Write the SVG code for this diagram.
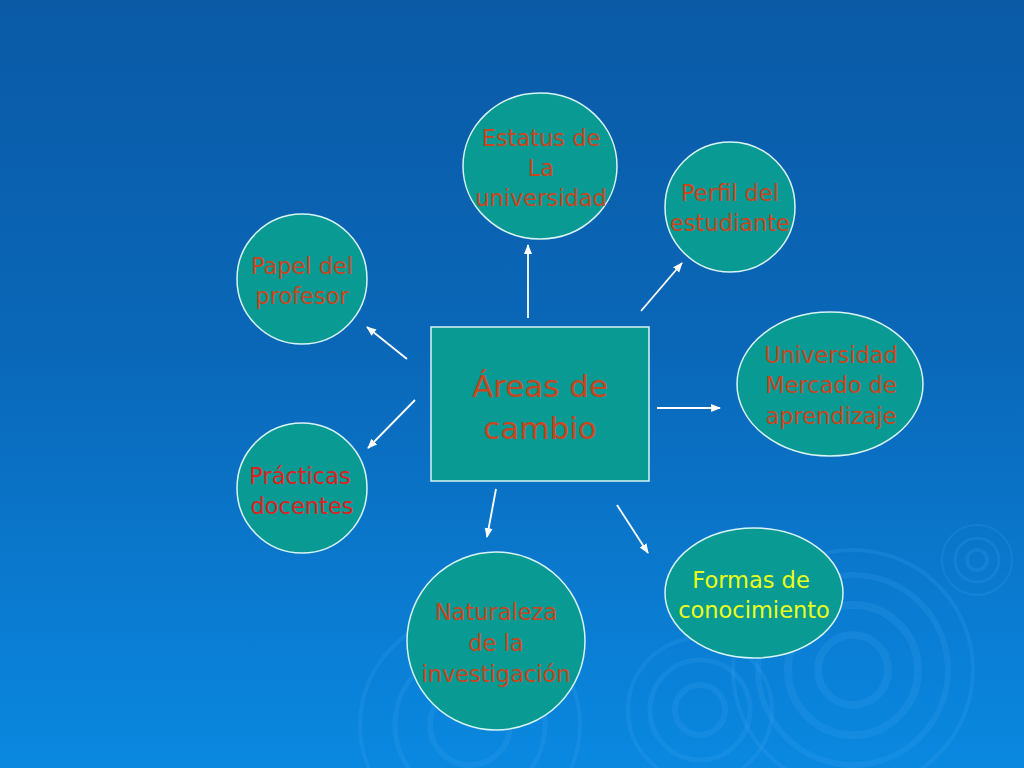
<svg xmlns="http://www.w3.org/2000/svg" width="1024" height="768" viewBox="0 0 1024 768">
<defs>
<linearGradient id="bg" x1="0" y1="0" x2="0" y2="1">
<stop offset="0" stop-color="#0a5aa6"/>
<stop offset="0.45" stop-color="#0a67b8"/>
<stop offset="1" stop-color="#0a88e0"/>
</linearGradient>
<marker id="ah" viewBox="0 0 10 10" refX="9" refY="5" markerWidth="10" markerHeight="10" orient="auto" markerUnits="userSpaceOnUse">
<path d="M0,1 L10,5 L0,9 z" fill="#ffffff"/>
</marker>
<style>
.node{fill:#0a9a94;stroke:#d8f4f4;stroke-width:1.5}
.t{font-family:"DejaVu Sans",Verdana,sans-serif;font-size:22.5px;text-anchor:middle;fill:#c8461e}
.red{fill:#e01e1e}
.yel{fill:#eaff1a}
.big{font-size:31px}
.conn line{stroke:#ffffff;stroke-width:1.8;marker-end:url(#ah)}
.rip{fill:none;stroke:#3aa6f0;stroke-opacity:0.2}
</style>
</defs>
<rect width="1024" height="768" fill="url(#bg)"/>
<g id="ripples">
<circle class="rip" cx="977" cy="560" r="10" stroke-width="4"/>
<circle class="rip" cx="977" cy="560" r="22" stroke-width="3"/>
<circle class="rip" cx="977" cy="560" r="35" stroke-width="2"/>
<circle class="rip" cx="853" cy="670" r="35" stroke-width="8"/>
<circle class="rip" cx="853" cy="670" r="65" stroke-width="8"/>
<circle class="rip" cx="853" cy="670" r="95" stroke-width="6"/>
<circle class="rip" cx="853" cy="670" r="120" stroke-width="4"/>
<circle class="rip" cx="700" cy="710" r="25" stroke-width="6"/>
<circle class="rip" cx="700" cy="710" r="50" stroke-width="5"/>
<circle class="rip" cx="700" cy="710" r="72" stroke-width="4"/>
<circle class="rip" cx="470" cy="725" r="40" stroke-width="6"/>
<circle class="rip" cx="470" cy="725" r="75" stroke-width="5"/>
<circle class="rip" cx="470" cy="725" r="110" stroke-width="4"/>
</g>
<g class="conn" id="connectors">
<line x1="528" y1="318" x2="528" y2="245"/>
<line x1="641" y1="311" x2="682" y2="263"/>
<line x1="657" y1="408" x2="720" y2="408"/>
<line x1="407" y1="359" x2="367" y2="327"/>
<line x1="415" y1="400" x2="368" y2="448"/>
<line x1="496" y1="489" x2="487" y2="537"/>
<line x1="617" y1="505" x2="648" y2="553"/>
</g>
<g id="center">
<rect class="node" x="431" y="327" width="218" height="154"/>
<text class="t big" x="540" y="397">Áreas de</text>
<text class="t big" x="540" y="439">cambio</text>
</g>
<g id="estatus">
<ellipse class="node" cx="540" cy="166" rx="77" ry="73"/>
<text class="t" x="541" y="146">Estatus de</text>
<text class="t" x="541" y="176">La</text>
<text class="t" x="541" y="206">universidad</text>
</g>
<g id="perfil">
<ellipse class="node" cx="730" cy="207" rx="65" ry="65"/>
<text class="t" x="730" y="201">Perfil del</text>
<text class="t" x="730" y="231">estudiante</text>
</g>
<g id="universidad">
<ellipse class="node" cx="830" cy="384" rx="93" ry="72"/>
<text class="t" x="831" y="363">Universidad</text>
<text class="t" x="831" y="393">Mercado de</text>
<text class="t" x="831" y="424">aprendizaje</text>
</g>
<g id="papel">
<ellipse class="node" cx="302" cy="279" rx="65" ry="65"/>
<text class="t" x="302" y="274">Papel del</text>
<text class="t" x="302" y="304">profesor</text>
</g>
<g id="practicas">
<ellipse class="node" cx="302" cy="488" rx="65" ry="65"/>
<text class="t red" x="300" y="484">Prácticas</text>
<text class="t red" x="302" y="514">docentes</text>
</g>
<g id="naturaleza">
<ellipse class="node" cx="496" cy="641" rx="89" ry="89"/>
<text class="t" x="496" y="620">Naturaleza</text>
<text class="t" x="496" y="651">de la</text>
<text class="t" x="496" y="682">investigación</text>
</g>
<g id="formas">
<ellipse class="node" cx="754" cy="593" rx="89" ry="65"/>
<text class="t yel" x="751" y="588">Formas de</text>
<text class="t yel" x="754" y="618">conocimiento</text>
</g>
</svg>
